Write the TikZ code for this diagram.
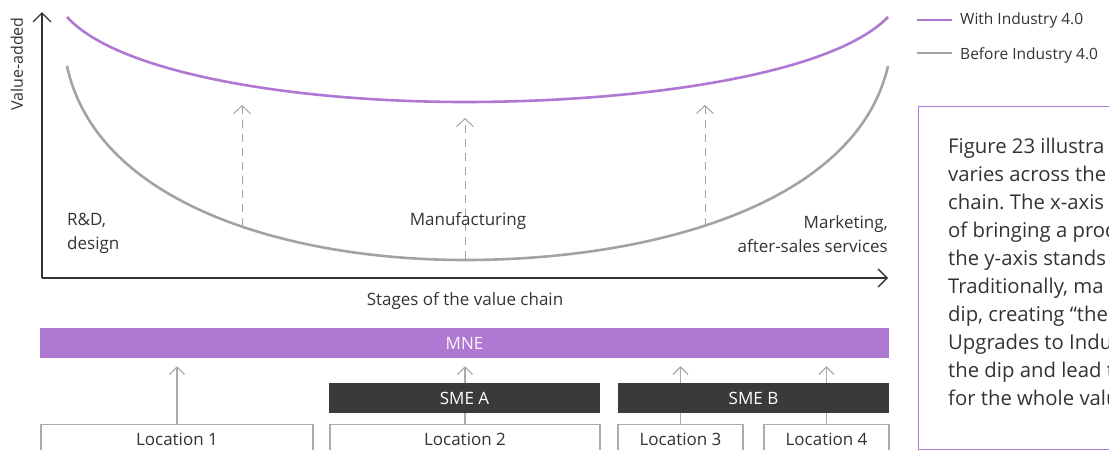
\documentclass[tikz,border=0pt]{standalone}
\usepackage{fontspec}
\setmainfont{Open Sans}
\usetikzlibrary{arrows.meta}
\frenchspacing

\definecolor{chainpurple}{HTML}{AE78D3}
\definecolor{curvegray}{HTML}{A3A3A3}
\definecolor{inkdark}{HTML}{333333}
\definecolor{smedark}{HTML}{3A3A3A}
\definecolor{linkgray}{HTML}{ABABAB}

\begin{document}
\begin{tikzpicture}[
  x=1pt, y=-1pt,
  lbl/.style={font=\fontsize{17}{24}\selectfont, text=inkdark, inner sep=0pt},
  legendtext/.style={font=\fontsize{15.5}{20}\selectfont, text=inkdark, inner sep=0pt, anchor=west},
  axisline/.style={draw=inkdark, line width=1.3pt,
    -{Straight Barb[length=9pt,width=18pt,line width=1.3pt]}},
  withcurve/.style={draw=chainpurple, line width=2.6pt},
  beforecurve/.style={draw=curvegray, line width=2.6pt},
  rise/.style={draw=curvegray, line width=1pt, dash pattern=on 8pt off 6pt,
    -{Straight Barb[length=8pt,width=17pt,line width=1pt]}},
  link/.style={draw=linkgray, line width=1.2pt,
    -{Straight Barb[length=7.5pt,width=15pt,line width=1.2pt]}, shorten >=8pt},
  bar/.style={rectangle, inner sep=0pt, minimum height=30pt,
    font=\fontsize{17}{20}\selectfont},
  mnebar/.style={bar, fill=chainpurple, text=white!94!chainpurple},
  smebar/.style={bar, fill=smedark, text=white},
  locbox/.style={rectangle, draw=linkgray, line width=1.2pt, fill=white,
    inner sep=0pt, minimum height=30pt, anchor=north, text=inkdark,
    font=\fontsize{17}{20}\selectfont},
]
\useasboundingbox (0,0) rectangle (1109,450);
\clip (0,0) rectangle (1109,450);

% axes
\coordinate (origin) at (42,278);
\coordinate (ytip) at (42,12);
\coordinate (xtip) at (888,278);
\draw[axisline] (origin) -- (ytip);
\draw[axisline] (origin) -- (xtip);
\node[lbl, font=\fontsize{16}{20}\selectfont, rotate=90] (ylabel) at (17,64) {Value-added};
\node[lbl] (xlabel) at (465,301) {Stages of the value chain};

% smile curves
\draw[withcurve] (67,17) .. controls (120,75) and (300,102) .. (465,102)
                 .. controls (640,102) and (832,75) .. (888,17);
\draw[beforecurve] (67,66) .. controls (97,205) and (290,260) .. (465,260)
                   .. controls (651,260) and (856,205) .. (888,66);

% upgrades lift each stage
\coordinate (riseL) at (242,226);
\coordinate (riseLtip) at (242,105);
\coordinate (riseM) at (465,259);
\coordinate (riseMtip) at (465,118);
\coordinate (riseR) at (705,226);
\coordinate (riseRtip) at (705,105);
\draw[rise] (riseL) -- (riseLtip);
\draw[rise] (riseM) -- (riseMtip);
\draw[rise] (riseR) -- (riseRtip);

% stage labels
\node[lbl, align=left, anchor=west] (rdlabel) at (67,233) {R\&D,\\design};
\node[lbl] (mfglabel) at (468,221) {Manufacturing};
\node[lbl, align=right, anchor=east] (mktlabel) at (888,234) {Marketing,\\after-sales services};

% legend
\draw[withcurve, line width=2.4pt] (917,20) -- (952,20);
\node[legendtext] (legwith) at (960,20) {With Industry 4.0};
\draw[beforecurve, line width=2.4pt] (917,53) -- (952,53);
\node[legendtext] (legbefore) at (960,55) {Before Industry 4.0};

% explanatory box
\node[draw=chainpurple, line width=1.2pt, rectangle, inner sep=0pt,
      anchor=north west, minimum width=230pt, minimum height=343pt] (notebox) at (918,106) {};
\node[anchor=west, align=left, inner sep=0pt, text=inkdark,
      font=\fontsize{20.3}{28}\selectfont] (notetext) at (948,272)
  {Figure 23 illustra\\
   varies across the\\
   chain. The x-axis\\
   of bringing a prod\\
   the y-axis stands\\
   Traditionally, ma\\
   dip, creating “the\\
   Upgrades to Indu\\
   the dip and lead t\\
   for the whole valu};

% firms and locations
\node[mnebar, minimum width=849pt] (mne) at (464.5,343) {MNE};
\node[locbox, minimum width=272pt] (loc1) at (177,424) {Location 1};
\node[locbox, minimum width=270pt] (loc2) at (465,424) {Location 2};
\node[locbox, minimum width=125pt] (loc3) at (680.5,424) {Location 3};
\node[locbox, minimum width=125pt] (loc4) at (826.5,424) {Location 4};

\draw[link] (loc1.north) -- (loc1.north |- mne.south);
\draw[link] (loc2.north) -- (loc2.north |- mne.south);
\draw[link] (loc3.north) -- (loc3.north |- mne.south);
\draw[link] (loc4.north) -- (loc4.north |- mne.south);

\node[smebar, minimum width=271pt] (smea) at (464.5,398) {SME A};
\node[smebar, minimum width=271pt] (smeb) at (753.5,398) {SME B};
\end{tikzpicture}
\end{document}
